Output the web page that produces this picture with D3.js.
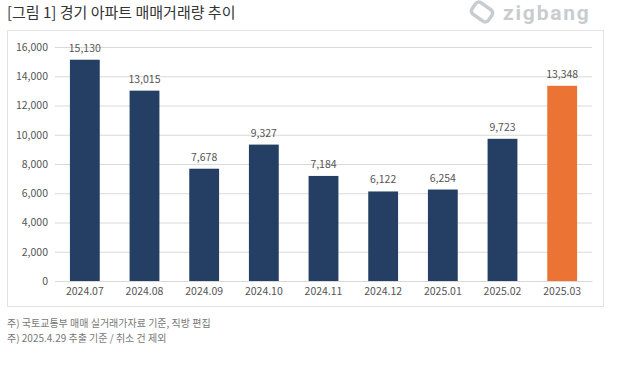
<!DOCTYPE html>
<html>
<head>
<meta charset="utf-8">
<script src="https://cdn.jsdelivr.net/npm/d3@7"></script>
<style>
  body { margin: 0; background: #fff; }
  text { font-family: "Noto Sans CJK KR", "Noto Sans", sans-serif; }
</style>
</head>
<body>
<script>
// 경기 아파트 매매거래량
var months = ["2024.07", "2024.08", "2024.09", "2024.10", "2024.11", "2024.12", "2025.01", "2025.02", "2025.03"];
var volumes = [15130, 13015, 7678, 9327, 7184, 6122, 6254, 9723, 13348];
var yTicks = [0, 2000, 4000, 6000, 8000, 10000, 12000, 14000, 16000];
var notes = ["주) 국토교통부 매매 실거래가자료 기준, 직방 편집", "주) 2025.4.29 추출 기준 / 취소 건 제외"];

var width = 640, height = 390;
var svg = d3.select("body").append("svg")
	.attr("width", width)
	.attr("height", height);

// title
svg.append("text")
	.attr("x", 7).attr("y", 18)
	.attr("font-size", 15)
	.attr("font-weight", 400)
	.attr("fill", "#333")
	.text("[그림 1] 경기 아파트 매매거래량 추이");

// zigbang logo
var logo = svg.append("g").attr("transform", "translate(482,12)");
logo.append("rect")
	.attr("x", -10).attr("y", -7).attr("width", 20).attr("height", 14)
	.attr("rx", 4)
	.attr("transform", "rotate(35)")
	.attr("fill", "none")
	.attr("stroke", "#c9cccf")
	.attr("stroke-width", 3.5);
svg.append("text")
	.attr("x", 503).attr("y", 20)
	.attr("font-size", 21)
	.attr("font-weight", 700)
	.attr("letter-spacing", 1.8)
	.attr("fill", "#c9cccf")
	.style("font-family", "Roboto, sans-serif")
	.text("zigbang");

// frame
svg.append("rect")
	.attr("x", 7.5).attr("y", 30.5)
	.attr("width", 596).attr("height", 276)
	.attr("fill", "#fff")
	.attr("stroke", "#e3e3e3");

var x = d3.scaleBand().domain(months).range([55, 592]).paddingInner(0.5).paddingOuter(0.25);
var y = d3.scaleLinear().domain([0, 16000]).range([281, 47]);

var yAxis = svg.append("g")
	.attr("transform", "translate(55,0)")
	.call(d3.axisLeft(y).tickValues(yTicks).tickSize(-537).tickFormat(d3.format(",")));
yAxis.select(".domain").remove();
yAxis.selectAll(".tick line").attr("stroke", "#d9d9d9");
yAxis.selectAll(".tick text")
	.attr("x", -7)
	.attr("font-size", 10.5)
	.attr("fill", "#555");

var xAxis = svg.append("g")
	.attr("transform", "translate(0,281)")
	.call(d3.axisBottom(x).tickSize(0).tickPadding(7));
xAxis.select(".domain").attr("stroke", "#d9d9d9");
xAxis.selectAll(".tick text")
	.attr("font-size", 10.5)
	.attr("fill", "#555");

var last = months[months.length - 1];

svg.append("g").selectAll("rect")
	.data(months)
	.enter().append("rect")
	.attr("x", function(d) { return x(d); })
	.attr("width", x.bandwidth())
	.attr("y", function(d, i) { return y(volumes[i]); })
	.attr("height", function(d, i) { return y(0) - y(volumes[i]); })
	.attr("fill", function(d) { return d === last ? "#eb7434" : "#253e63"; });

svg.append("g").selectAll("text")
	.data(months)
	.enter().append("text")
	.attr("x", function(d) { return x(d) + x.bandwidth() / 2; })
	.attr("y", function(d, i) { return y(volumes[i]) - 8; })
	.attr("text-anchor", "middle")
	.attr("font-size", 10.5)
	.attr("fill", "#555")
	.text(function(d, i) { return d3.format(",")(volumes[i]); });

svg.append("g").selectAll("text")
	.data(notes)
	.enter().append("text")
	.attr("x", 7)
	.attr("y", function(d, i) { return 327 + i * 15; })
	.attr("font-size", 10)
	.attr("fill", "#777")
	.text(function(d) { return d; });
</script>
</body>
</html>
